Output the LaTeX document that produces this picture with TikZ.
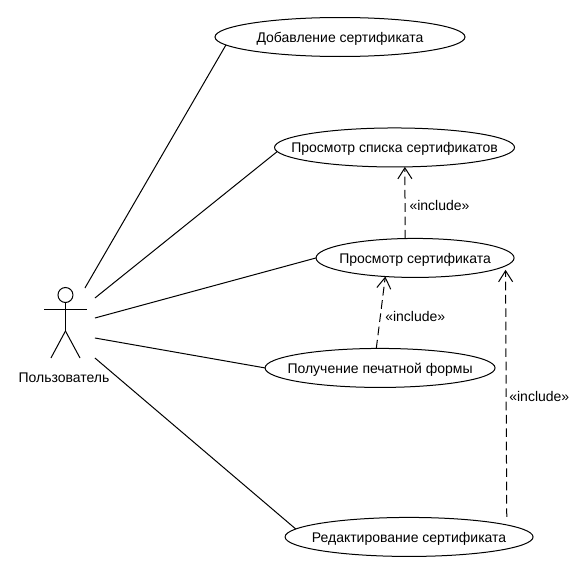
\documentclass[tikz,border=0pt]{standalone}
\usepackage{fontspec}
\setmainfont{Liberation Sans}
\usetikzlibrary{positioning,arrows.meta,calc,shapes.geometric}

\newcommand{\uctext}[1]{\smash{\raisebox{-4pt}{\makebox[0pt]{#1}}}}

\begin{document}
\begin{tikzpicture}[
  font=\fontsize{10.5pt}{12pt}\selectfont,
  line width=.75pt,
  usecase/.style={
    ellipse,
    draw=black,
    inner sep=0pt,
    outer sep=0pt,
    minimum height=29.25pt,
    fill=white,
  },
  assoc/.style={draw=black},
  incl/.style={
    -{Straight Barb[length=8.25pt,width=10.5pt]},
    draw=black,
    dash pattern=on 6.5pt off 3.5pt,
  },
  incllabel/.style={inner sep=0pt, anchor=west},
]
  \useasboundingbox (0,0) rectangle (439.5pt,-423pt);

  % --- Use cases ---
  \node[usecase, minimum width=187.5pt] (add) at (255pt,-27.75pt) {\uctext{Добавление сертификата}};
  \node[usecase, minimum width=180pt, below=53.6pt of add, xshift=40.9pt] (list) {\uctext{Просмотр списка сертификатов}};
  \node[usecase, minimum width=148.5pt, below=53.6pt of list, xshift=15.4pt] (view) {\uctext{Просмотр сертификата}};
  \node[usecase, minimum width=172.5pt, below=53.25pt of view, xshift=-26.25pt] (print) {\uctext{Получение печатной формы}};
  \node[usecase, minimum width=186pt, below=97.5pt of print, xshift=21.75pt] (edit) {\uctext{Редактирование сертификата}};

  % --- Actor ---
  \node[circle, draw=black, inner sep=0pt, outer sep=0pt, minimum size=11.25pt] (head) at (49.1pt,-221.25pt) {};
  \coordinate (hip) at ($(head.center)+(0,-27pt)$);
  \coordinate (armL) at ($(head.center)+(-16.1pt,-10.5pt)$);
  \coordinate (armR) at ($(head.center)+(16.1pt,-10.5pt)$);
  \coordinate (legL) at ($(head.center)+(-10.9pt,-47.25pt)$);
  \coordinate (legR) at ($(head.center)+(10.9pt,-47.25pt)$);
  \node[inner sep=0pt] (user) at ($(head.center)+(-1.1pt,-62pt)$) {Пользователь};

  \draw[assoc] (head.south) -- (hip);
  \draw[assoc] (armL) -- (armR);
  \draw[assoc] (hip) -- (legL);
  \draw[assoc] (hip) -- (legR);

  % --- Associations ---
  \coordinate (a1) at ($(head.center)+(14.6pt,5.25pt)$);
  \coordinate (a2) at ($(head.center)+(22.1pt,-2.25pt)$);
  \coordinate (a3) at ($(head.center)+(22.1pt,-17.25pt)$);
  \coordinate (a4) at ($(head.center)+(22.1pt,-32.25pt)$);
  \coordinate (a5) at ($(head.center)+(22.1pt,-47.25pt)$);

  \draw[assoc] (a1) -- (add.184.5);
  \draw[assoc] (a2) -- (list.182);
  \draw[assoc] (a3) -- (view.west);
  \draw[assoc] (a4) -- (print.west);
  \draw[assoc] (a5) -- (edit.176.1);

  % --- Includes ---
  \draw[incl] (view.117) -- node[incllabel, xshift=3pt, yshift=-2.2pt] {«include»} (list.-62);
  \draw[incl] (print.101) -- node[incllabel, xshift=3pt, yshift=-3pt] {«include»} (view.212);
  \draw[incl, shorten <=6pt, shorten >=3pt] (edit.7.3) -- node[incllabel, xshift=2pt, yshift=-.8pt] {«include»} (view.-5.1);

\end{tikzpicture}
\end{document}
